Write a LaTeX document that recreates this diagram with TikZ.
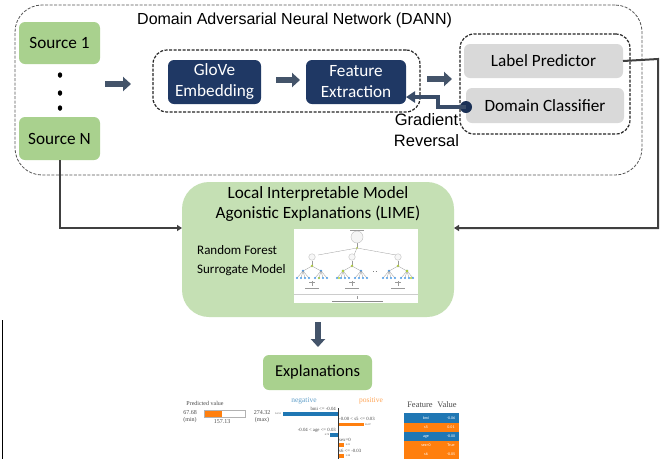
\documentclass[tikz,border=0pt]{standalone}
\usepackage{fontspec}
\setmainfont{Carlito}
\newfontfamily\arialf{Liberation Sans}
\newfontfamily\serifz{Liberation Serif}
\usetikzlibrary{arrows.meta,calc,shapes.geometric}
\definecolor{srcgreen}{HTML}{A9D18E}
\definecolor{limegreen}{HTML}{C5E0B4}
\definecolor{navy}{HTML}{1F3864}
\definecolor{slatearrow}{HTML}{44546A}
\definecolor{greybox}{HTML}{D9D9D9}
\definecolor{linegrey}{HTML}{404040}
\definecolor{dashgrey}{HTML}{555555}
\definecolor{shapblue}{HTML}{1F77B4}
\definecolor{shaporange}{HTML}{FF7F0E}
\definecolor{treeblue}{HTML}{4A9BE8}
\definecolor{treegreen}{HTML}{B5D334}
\tikzset{
  box/.style={anchor=north west,inner sep=0pt,outer sep=0pt,align=center,text=black,font=\fontsize{17.2}{21}\selectfont},
  srcbox/.style={box,fill=srcgreen,rounded corners=6pt},
  navybox/.style={box,fill=navy,text=white,rounded corners=6pt},
  greyb/.style={box,fill=greybox,rounded corners=6pt},
  dashedframe/.style={anchor=north west,inner sep=0pt,outer sep=0pt,draw=black!85,dash pattern=on 3pt off 1.5pt,line width=1.2pt,rounded corners=14pt},
  thinframe/.style={anchor=north west,inner sep=0pt,outer sep=0pt,draw=dashgrey,dash pattern=on 3pt off 1.5pt,line width=0.8pt,rounded corners=27pt},
  fatarrow/.style={-{Triangle[length=8pt,width=14pt]},line width=6pt,draw=slatearrow},
  conn/.style={-{Triangle[length=5pt,width=6pt]},line width=2pt,draw=linegrey},
  grad/.style={-{Triangle[length=9pt,width=11pt]},line width=4pt,draw=slatearrow!70!navy},
  dotn/.style={ellipse,fill=black,inner sep=0pt,minimum width=4.5pt,minimum height=5.5pt},
  lab/.style={anchor=base west,inner sep=0pt,font=\fontsize{13}{15}\selectfont},
  tiny/.style={inner sep=0pt,font=\serifz\fontsize{6}{7}\selectfont,text=black!70},
  tinyb/.style={tiny,font=\serifz\fontsize{4.8}{5}\selectfont},
  tinyv/.style={tiny,font=\serifz\fontsize{2.5}{3}\selectfont},
  tinyh/.style={tiny,font=\serifz\fontsize{8.5}{9}\selectfont},
  tinyw/.style={inner sep=0pt,font=\fontsize{4}{4}\selectfont,text=white},
  ring/.style={circle,draw=black!35,fill=white,inner sep=0pt},
  twig/.style={draw=black!40,line width=0.3pt}
}
\begin{document}
\begin{tikzpicture}[x=1pt,y=-1pt]
\useasboundingbox (0,0) rectangle (669,459);
\fill[white] (0,0) rectangle (669,459);
% frames
\node[thinframe,minimum width=627pt,minimum height=170pt] (dann) at (15,5) {};
\node[dashedframe,minimum width=267pt,minimum height=62pt] (encframe) at (153,50) {};
\node[dashedframe,minimum width=170pt,minimum height=100pt] (predframe) at (460,34) {};
\node[anchor=base west,inner sep=0pt,font=\arialf\fontsize{16}{19}\selectfont] (title) at (137,24.5) {Domain Adversarial Neural Network (DANN)};
% sources
\node[srcbox,minimum width=81pt,minimum height=42pt] (s1) at (19,22) {Source 1};
\node[srcbox,minimum width=81pt,minimum height=43pt] (sn) at (19,117) {Source N};
\node[dotn] (d1) at (60,75) {};
\node[dotn] (d2) at (60,93) {};
\node[dotn] (d3) at (60,108) {};
% encoder
\node[navybox,minimum width=93pt,minimum height=44pt] (glove) at (168,60) {GloVe\\Embedding};
\node[navybox,minimum width=100pt,minimum height=44pt] (feat) at (306,60) {Feature\\Extraction};
% predictors
\node[greyb,minimum width=159pt,minimum height=34pt] (label) at (464,44) {Label Predictor};
\node[greyb,minimum width=158pt,minimum height=35pt] (domain) at (466,88) {Domain Classifier};
\node[circle,fill=navy!85!black,inner sep=0pt,minimum size=12pt] (gdot) at (466,107) {};
\node[anchor=north,inner sep=0pt,align=center,font=\arialf\fontsize{16.5}{20.5}\selectfont] (gr) at (426.5,113.5) {Gradient\\Reversal};
% lime
\node[box,fill=limegreen,rounded corners=27pt,minimum width=272pt,minimum height=135pt] (lime) at (182,182) {};
\node[anchor=north,inner sep=0pt,align=center,font=\fontsize{17.2}{20}\selectfont] (limet) at (318,186.5) {Local Interpretable Model\\Agonistic Explanations (LIME)};
\node[lab] (rf) at (197,254) {Random Forest};
\node[lab] (sm) at (197,273) {Surrogate Model};
\node[anchor=north west,fill=white,inner sep=0pt,minimum width=124pt,minimum height=74pt] (tree) at (294,229) {};
% tree picture
\begin{scope}
\coordinate (root) at (357,237);
\coordinate (mid) at (357,248);
\draw[twig] (root) -- (mid);
\draw[twig] (mid) -- (318,255);
\draw[twig] (mid) -- (354,255);
\draw[twig] (mid) -- (396,255);
\draw[black!40,line width=0.6pt] (350,230) -- (364,230);
\node[ring,minimum size=12pt,draw=black!25,fill=black!4] (rootn) at (root) {};
\fill[treegreen] (mid) circle (0.9pt);
\foreach \cx in {312,352,398}{
  \node[ring,minimum size=6.5pt,draw=black!25,fill=black!3] (t\cx) at (\cx,257) {};
  \draw[twig] (\cx,261) -- (\cx,266);
  \fill[treegreen] (\cx,266) circle (1.3pt);
  \foreach \dx in {-9,9}{
    \draw[twig] (\cx,266) -- ({\cx+\dx},271);
    \fill[treeblue] ({\cx+\dx},271) circle (1.4pt);
    \foreach \ex in {-6,-2,2,6}{
      \draw[twig] ({\cx+\dx},271) -- ({\cx+\dx+\ex},278);
      \fill[treeblue] ({\cx+\dx+\ex},278) circle (1.2pt);
    }
  }
  \draw[twig,line width=0.2pt] (\cx,281) -- (\cx,286);
  \draw[black!40,line width=0.5pt] ({\cx-3},282.5) -- ({\cx+3},282.5);
  \draw[black!40,line width=0.5pt] ({\cx-7},288) -- ({\cx+7},288);
}
\fill[treegreen] (343,271) circle (1.4pt);
\fill[treegreen] (407,271) circle (1.4pt);
\fill[treegreen] (319,278) circle (1.2pt);
\fill[treegreen] (339,278) circle (1.2pt);
\fill[treegreen] (411,278) circle (1.2pt);
\draw[black!20,line width=1pt] (294,294) -- (418,294);
\draw[black!45,line width=0.6pt] (332,301) -- (383,301);
\draw[black!40,line width=0.3pt] (357,296) -- (357,299);
\draw[black!50,line width=0.7pt,dotted] (373,271) -- (378,271);
\end{scope}
% explanations
\node[srcbox,minimum width=109pt,minimum height=35pt,font=\fontsize{16.5}{20}\selectfont] (expl) at (263,355) {Explanations};
% connectors
\draw[fatarrow] (105,84) -- (131,84);
\draw[fatarrow] (276,80) -- (300,80);
\draw[fatarrow] (427,79) -- (452,79);
\draw[fatarrow] (318,322) -- (318,347);
\draw[conn] (sn.south) |- (lime.west |- 0,228);
\draw[conn] (label.east) -- (658,59) |- (lime.east |- 0,228);
\draw[grad] (gdot.center) -- (438,107) -- (438,97) -- (feat.east |- 0,97);
% thin rule at left
\draw[black,line width=0.6pt] (2,320) -- (2,459);
% bar chart
\begin{scope}
\node[tiny] (pv) at (205,403) {Predicted value};
\node[tiny,align=center] (mn) at (190,416.5) {67.68\\(min)};
\node[tiny,align=center] (mx) at (262,416.5) {274.32\\(max)};
\node[tiny] (pv2) at (222,421.5) {157.13};
\node[anchor=north west,draw=black!30,line width=0.5pt,fill=white,inner sep=0pt,minimum width=41pt,minimum height=6.5pt] (pbar) at (204,410) {};
\fill[shaporange] (204.5,410.5) rectangle (222,416.5);
\node[inner sep=0pt,font=\serifz\fontsize{7.5}{8}\selectfont,text=shapblue!70] (neg) at (304,401) {negative};
\node[inner sep=0pt,font=\serifz\fontsize{7.5}{8}\selectfont,text=shaporange!70] (pos) at (371,401) {positive};
\fill[shapblue] (283,412) rectangle (338,415.5);
\fill[shaporange] (338,422.5) rectangle (364,426);
\fill[shapblue] (330,433) rectangle (338,436.5);
\fill[shaporange] (338,443) rectangle (344,446.5);
\fill[shaporange] (338,454) rectangle (344,457.5);
\draw[black!80,line width=0.9pt] (338,408) -- (338,459);
\node[tinyb,anchor=east] at (336,409) {bmi <= -0.04};
\node[tinyb,anchor=west] at (339,419) {-0.00 < s5 <= 0.03};
\node[tinyb,anchor=east] at (336,430) {-0.04 < age <= 0.03};
\node[tinyb,anchor=west] at (339,440) {sex=0};
\node[tinyb,anchor=west] at (339,450.5) {s6 <= -0.03};
\node[tinyv] at (278,414) {54.53};
\node[tinyv] at (368,425) {26.87};
\node[tinyv] at (327,435) {6.78};
\node[tinyv] at (348,445) {6.23};
\node[tinyv] at (348,456) {5.38};
% table
\node[tinyh] (fh) at (420,405) {Feature};
\node[tinyh] (vh) at (447,405) {Value};
\fill[shapblue] (404,413) rectangle (459,422.5);
\fill[shaporange] (404,422.5) rectangle (459,432);
\fill[shapblue] (404,432) rectangle (459,441);
\fill[shaporange] (404,441) rectangle (459,450);
\fill[shaporange] (404,450) rectangle (459,459);
\node[tinyw] at (426,418) {bmi}; \node[tinyw] at (451,418) {-0.06};
\node[tinyw] at (426,427) {s5};  \node[tinyw] at (451,427) {0.01};
\node[tinyw] at (426,436.5) {age}; \node[tinyw] at (451,436.5) {-0.00};
\node[tinyw] at (426,445.5) {sex=0}; \node[tinyw] at (451,445.5) {True};
\node[tinyw] at (426,454.5) {s6}; \node[tinyw] at (451,454.5) {-0.05};
\end{scope}
\end{tikzpicture}
\end{document}
